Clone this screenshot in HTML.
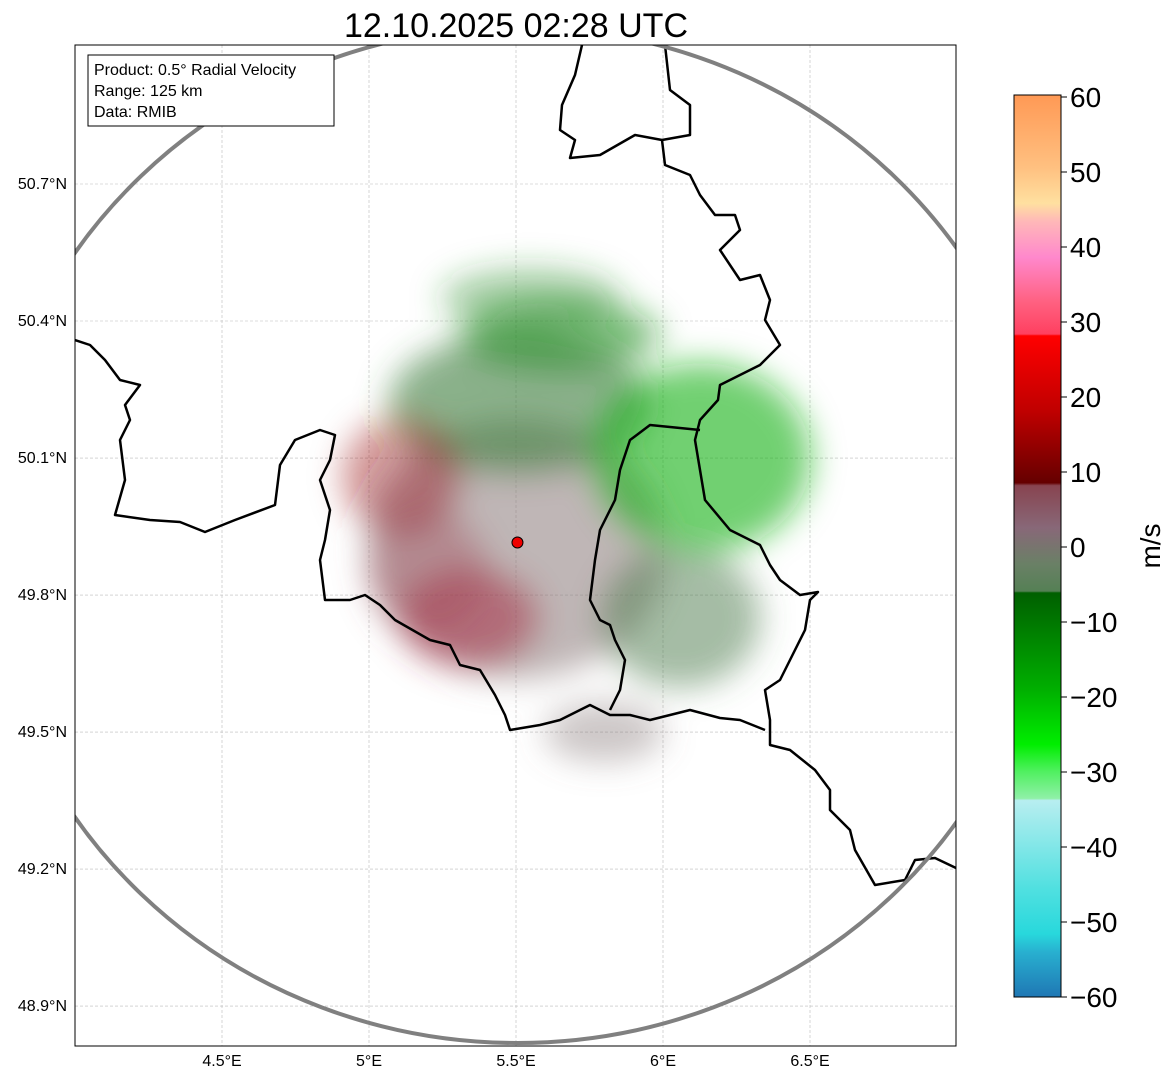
<!DOCTYPE html>
<html><head><meta charset="utf-8"><style>
body{margin:0;background:#fff;width:1171px;height:1081px;overflow:hidden;font-family:"Liberation Sans","DejaVu Sans",sans-serif}
</style></head><body>
<svg id="s" width="1171" height="1081" xmlns="http://www.w3.org/2000/svg">
<defs>
<filter id="blur" x="-50%" y="-50%" width="200%" height="200%"><feGaussianBlur stdDeviation="16"/></filter>
<clipPath id="clip"><rect x="75" y="45" width="881" height="1001"/></clipPath>
<linearGradient id="cb" x1="0" y1="0" x2="0" y2="1">
<stop offset="0" stop-color="#ff9955"/><stop offset="0.08" stop-color="#ffc080"/><stop offset="0.12" stop-color="#ffe0a0"/>
<stop offset="0.14" stop-color="#ffb8b8"/><stop offset="0.18" stop-color="#ff88cc"/><stop offset="0.23" stop-color="#ff6080"/>
<stop offset="0.265" stop-color="#ff4060"/><stop offset="0.267" stop-color="#ff0000"/><stop offset="0.35" stop-color="#c00000"/>
<stop offset="0.43" stop-color="#650000"/><stop offset="0.433" stop-color="#884450"/><stop offset="0.48" stop-color="#886878"/>
<stop offset="0.52" stop-color="#6a8066"/><stop offset="0.55" stop-color="#558055"/><stop offset="0.552" stop-color="#005f00"/>
<stop offset="0.66" stop-color="#00b000"/><stop offset="0.72" stop-color="#00ee00"/><stop offset="0.75" stop-color="#50f060"/>
<stop offset="0.78" stop-color="#90f0a8"/><stop offset="0.782" stop-color="#b8eef0"/><stop offset="0.88" stop-color="#50e0e0"/>
<stop offset="0.93" stop-color="#28d8dc"/><stop offset="0.95" stop-color="#28b0d0"/><stop offset="1" stop-color="#1f77b4"/>
</linearGradient>
</defs>
<text x="516" y="37" font-size="34" text-anchor="middle">12.10.2025 02:28 UTC</text>
<g id="plot" clip-path="url(#clip)"></g>
<rect x="75" y="45" width="881" height="1001" fill="none" stroke="#000" stroke-width="1"/>
<g id="ticks" font-size="16"></g>
<g>
<rect x="88" y="55" width="246" height="71" fill="#fff" stroke="#000"/>
<text x="94" y="75" font-size="16">Product: 0.5° Radial Velocity</text>
<text x="94" y="96" font-size="16">Range: 125 km</text>
<text x="94" y="117" font-size="16">Data: RMIB</text>
</g>
<g>
<rect x="1014" y="95" width="47" height="902" fill="url(#cb)" stroke="#000"/>
<g id="cbt" font-size="28"></g>
<text transform="translate(1160,546) rotate(-90)" font-size="28" text-anchor="middle">m/s</text>
</g>
</svg>
<script>
const lonTicks=[4.5,5,5.5,6,6.5];
const latTicks=[50.7,50.4,50.1,49.8,49.5,49.2,48.9];
const cbTicks=[60,50,40,30,20,10,0,-10,-20,-30,-40,-50,-60];
const blobLon=[5.50,5.51,6.13,5.65,5.11,5.34,6.06,5.80,5.55,5.20];
const blobLat=[49.90,50.22,50.10,50.37,50.06,49.75,49.75,49.50,50.45,49.85];
const blobRx=[150,130,110,100,60,70,80,60,90,60];
const blobRy=[130,70,95,35,60,50,70,30,30,60];
const blobCol=["#8a7a7a","#3a7d3a","#10b010","#1a8a1a","#900010","#a00020","#4a7a4a","#807070","#2a8a2a","#a04050"];
const blobOp=[0.55,0.6,0.6,0.55,0.4,0.4,0.5,0.4,0.4,0.35];
const ns="http://www.w3.org/2000/svg";
const X=lon=>75+(lon-4.0)*294;
const Y=lat=>184+(50.7-lat)*456.7;
const V=v=>97+(60-v)*7.5;
function mk(t,a,p){const e=document.createElementNS(ns,t);for(const k in a)e.setAttribute(k,a[k]);p.appendChild(e);return e;}
const plot=document.getElementById('plot');
lonTicks.forEach(l=>{const g=mk('line',{x1:X(l),x2:X(l),y1:45,y2:1046,stroke:'#bbb','stroke-width':0.6,'stroke-dasharray':'3,2'},plot);

});
latTicks.forEach(l=>{const g=mk('line',{x1:75,x2:956,y1:Y(l),y2:Y(l),stroke:'#bbb','stroke-width':0.6,'stroke-dasharray':'3,2'},plot);

});
const bb=mk('g',{filter:'url(#blur)'},plot);
blobLon.forEach((lo,i)=>{const e=mk('ellipse',{cx:X(lo),cy:Y(blobLat[i]),rx:blobRx[i],ry:blobRy[i],fill:blobCol[i],opacity:blobOp[i]},bb);

});
const borders=[
[[582,45],[575,75],[562,105],[560,130],[575,140],[570,158],[600,155],[635,135],[662,140],[665,165],[690,175],[700,195],[715,215],[735,215],[740,230],[720,250],[740,280],[760,275],[770,300],[765,320],[780,345],[760,365],[720,385],[718,400],[700,420],[695,440],[700,470],[705,500],[730,530],[760,545],[770,565],[780,580],[800,595],[818,592],[810,600],[805,630],[790,660],[780,680],[765,690],[770,720],[770,745],[790,750],[815,770],[830,790],[830,810],[850,830],[855,850],[875,885],[905,880],[915,860],[935,858],[956,868]],
[[665,45],[670,90],[690,105],[690,135],[662,140]],
[[75,340],[90,345],[105,360],[120,380],[140,385],[125,405],[130,420],[120,440],[125,480],[115,515],[150,520],[180,522],[205,532],[235,520],[275,505],[280,465],[295,440],[320,430],[335,435],[330,460],[320,480],[330,510],[325,540],[320,560],[325,600],[350,600],[365,595],[380,605],[395,620],[430,640],[450,645],[460,665],[480,670],[495,695],[505,715],[510,730],[540,725],[560,720],[590,705],[610,715],[630,715],[650,720],[690,710],[720,718],[740,720],[765,730]],
[[700,430],[650,425],[630,440],[620,470],[615,500],[600,530],[595,560],[590,600],[600,620],[610,625],[615,640],[625,660],[620,690],[610,710]]];
borders.forEach(b=>{const p=mk('polyline',{points:b.map(q=>q.join(',')).join(' '),fill:'none',stroke:'#000','stroke-width':2.5,'stroke-linejoin':'round'},plot);

});
const c=mk('ellipse',{cx:X(5.505),cy:535,rx:532,ry:508,fill:'none',stroke:'#808080','stroke-width':4},plot);


const r=mk('circle',{cx:X(5.505),cy:Y(49.915),r:5.5,fill:'#e00',stroke:'#000','stroke-width':1},plot);


const tk=document.getElementById('ticks');
lonTicks.forEach(l=>{const t=mk('text',{x:X(l),y:1066,'text-anchor':'middle'},tk);t.textContent=l+'°E';

});
latTicks.forEach(l=>{const t=mk('text',{x:67,y:Y(l)+5,'text-anchor':'end'},tk);t.textContent=l.toFixed(1)+'°N';

});
const cbt=document.getElementById('cbt');
cbTicks.forEach(v=>{mk('line',{x1:1061,x2:1067,y1:V(v),y2:V(v),stroke:'#000'},cbt);
const t=mk('text',{x:1070,y:V(v)+10},cbt);t.textContent=v<0?'\u2212'+(-v):v;

});
</script>
</body></html>
